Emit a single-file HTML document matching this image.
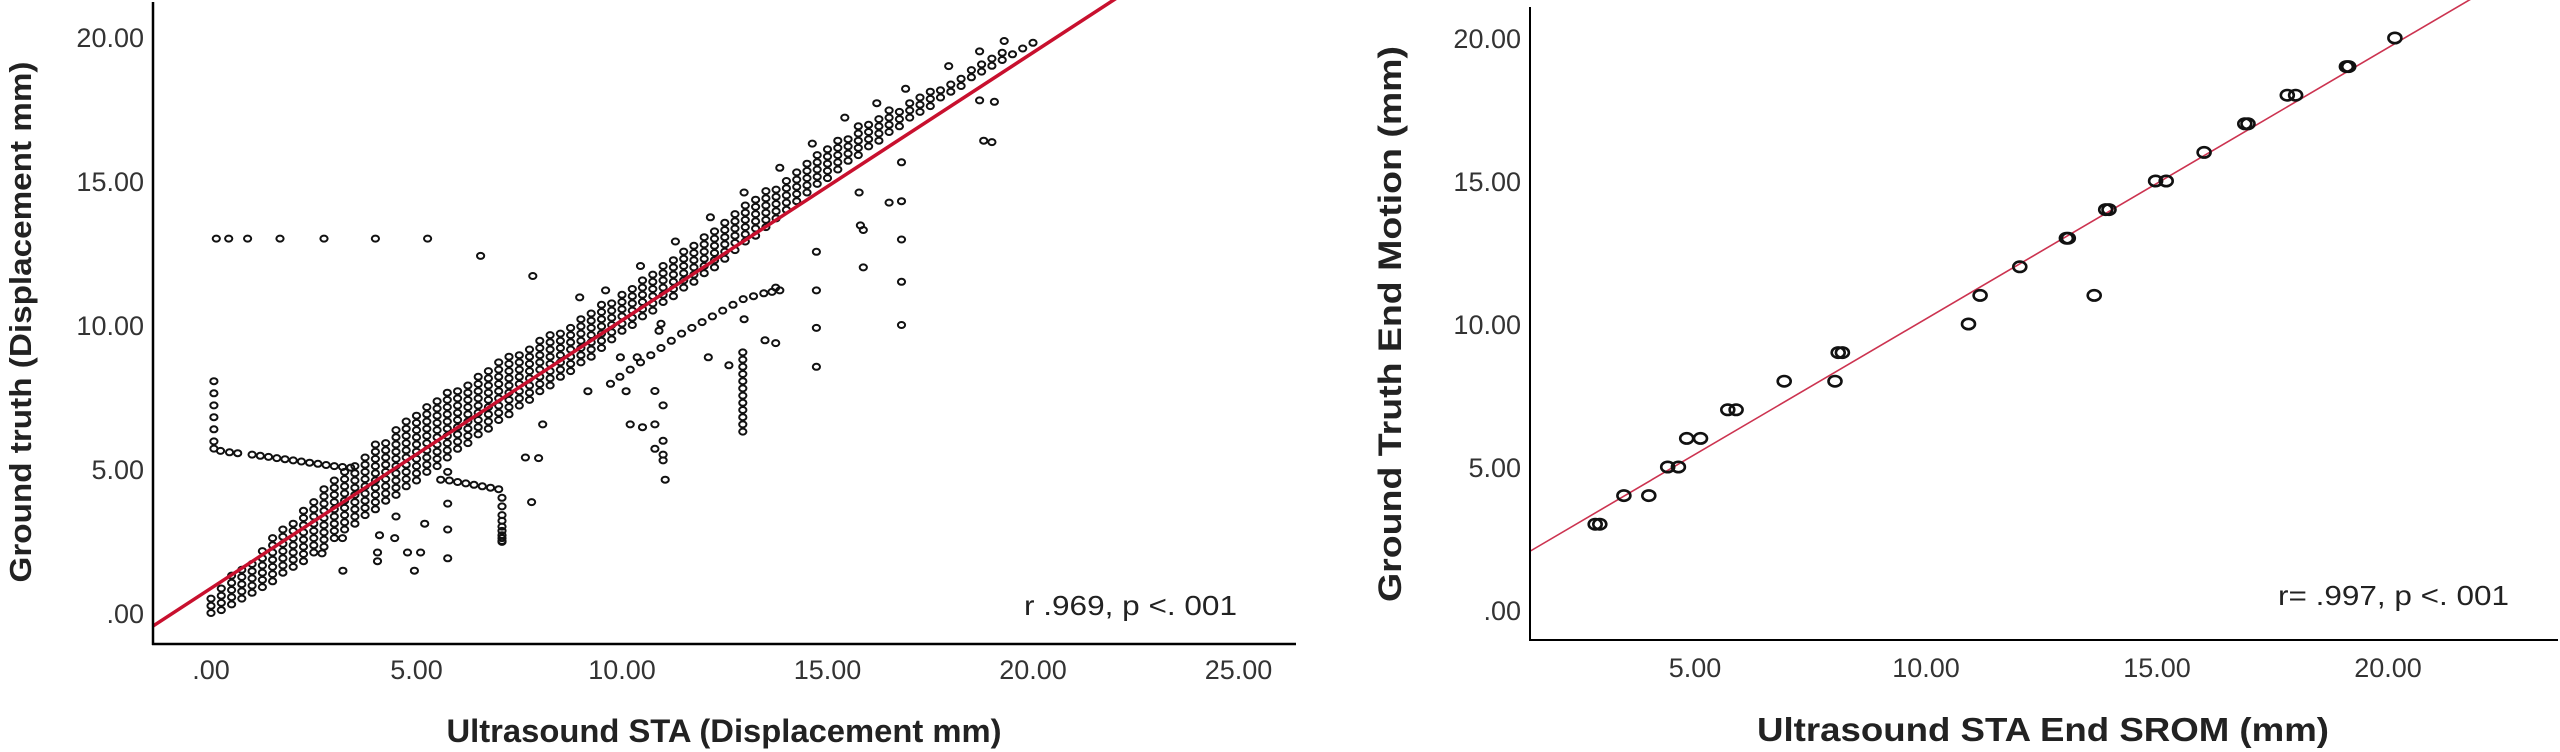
<!DOCTYPE html>
<html><head><meta charset="utf-8"><title>Scatter plots</title>
<style>
html,body{margin:0;padding:0;background:#fff;}
svg{display:block;}
text{font-family:"Liberation Sans",sans-serif;}
</style></head>
<body>
<svg id="fig" width="2560" height="752" viewBox="0 0 2560 752" xmlns="http://www.w3.org/2000/svg">
<rect x="0" y="0" width="2560" height="752" fill="#fff"/>
<defs>
<clipPath id="clipL"><rect x="153" y="0" width="1143" height="644"/></clipPath>
<clipPath id="clipR"><rect x="1530" y="0" width="1030" height="640"/></clipPath>
</defs>
<g id="left"></g>
<g id="right"></g>
</svg>
<script>
// ---------- Left chart data ----------
const leftXTicks = [0, 5, 10, 15, 20, 25];
const leftXTickLabels = [".00", "5.00", "10.00", "15.00", "20.00", "25.00"];
const leftYTicks = [0, 5, 10, 15, 20];
const leftYTickLabels = [".00", "5.00", "10.00", "15.00", "20.00"];
const leftFit = [0.86, 0.93]; // intercept, slope
const bandX = [0,0.25,0.5,0.75,1,1.25,1.5,1.75,2,2.25,2.5,2.75,3,3.25,3.5,3.75,4,4.25,4.5,4.75,5,5.25,5.5,5.75,6,6.25,6.5,6.75,7,7.25,7.5,7.75,8,8.25,8.5,8.75,9,9.25,9.5,9.75,10,10.25,10.5,10.75,11,11.25,11.5,11.75,12,12.25,12.5,12.75,13,13.25,13.5,13.75,14,14.25,14.5,14.75,15,15.25,15.5,15.75,16,16.25,16.5,16.75,17,17.25,17.5,17.75,18,18.25,18.5,18.75,19,19.25,19.5,19.75,20];
const bandUpperY = [0.6,0.9,1.3,1.6,1.9,2.2,2.6,3.0,3.3,3.7,4.0,4.3,4.6,4.9,5.3,5.6,5.9,6.1,6.4,6.7,7.0,7.2,7.5,7.7,7.9,8.1,8.3,8.5,8.7,8.9,9.1,9.3,9.5,9.7,9.9,10.1,10.3,10.5,10.7,10.9,11.1,11.4,11.6,11.9,12.1,12.4,12.6,12.9,13.1,13.4,13.7,13.9,14.2,14.4,14.7,14.9,15.2,15.4,15.7,15.9,16.2,16.4,16.6,16.9,17.1,17.3,17.5,17.6,17.8,18.0,18.1,18.3,18.5,18.7,18.9,19.1,19.3,19.5,19.6,19.8,19.9];
const bandLowerY = [0.0,0.1,0.3,0.5,0.7,0.9,1.1,1.4,1.6,1.8,2.1,2.3,2.6,2.9,3.1,3.4,3.6,3.9,4.1,4.4,4.6,4.9,5.1,5.4,5.7,5.9,6.2,6.4,6.7,6.9,7.2,7.4,7.7,7.9,8.2,8.4,8.7,8.9,9.2,9.5,9.8,10.0,10.3,10.5,10.8,11.0,11.3,11.5,11.8,12.0,12.3,12.6,12.9,13.1,13.4,13.7,14.0,14.3,14.6,14.9,15.1,15.4,15.7,15.9,16.2,16.4,16.7,16.9,17.2,17.4,17.6,17.9,18.1,18.3,18.6,18.8,19.0,19.2,19.4,19.6,19.8];
const outlierX = [0.13,0.43,0.89,1.68,2.75,4.0,5.27,6.56,7.83,
 0.07,0.07,0.07,0.07,0.07,0.07,0.07,
 0.23,0.45,0.65,1.0,1.2,1.4,1.6,1.8,2.0,2.2,2.4,2.6,2.8,3.0,3.2,3.4,
 5.59,5.8,6.0,6.2,6.4,6.6,6.8,7.0,7.08,7.08,7.08,7.08,7.08,7.08,7.08,7.08,7.08,7.08,
 9.72,9.95,10.2,10.45,10.7,10.95,11.2,11.45,11.7,11.95,12.2,12.45,12.7,12.95,13.2,13.45,13.65,13.84,
 12.94,12.94,12.94,12.94,12.94,12.94,12.94,12.94,12.94,12.94,12.94,12.94,
 10.95,10.9,10.8,11.0,10.2,10.5,10.8,10.8,11.0,11.0,11.05,11.0,
 14.73,14.73,14.73,14.73,16.8,16.8,16.8,16.8,16.8,16.5,15.8,15.87,15.87,15.77,
 18.7,19.06,18.8,19.0,
 3.21,4.05,4.95,2.7,4.05,4.78,5.1,5.76,5.76,5.76,5.76,4.1,4.47,5.2,3.2,4.5,7.97,7.65,8.07,7.8,9.17,10.1,
 9.96,10.37,12.1,12.6,12.97,13.48,13.74,13.74,
 17.95,18.7,19.3,14.63,15.42,16.2,16.9,
 8.97,9.6,10.45,11.3,12.15,12.97,13.84];
const outlierY = [13.0,13.0,13.0,13.0,13.0,13.0,13.0,12.4,11.7,
 8.05,7.63,7.21,6.8,6.38,5.96,5.71,
 5.63,5.58,5.55,5.5,5.46,5.42,5.38,5.34,5.3,5.26,5.22,5.18,5.14,5.1,5.07,5.05,
 4.63,4.6,4.55,4.5,4.45,4.4,4.35,4.3,4.0,3.7,3.4,3.2,3.0,2.85,2.7,2.6,2.5,2.47,
 7.96,8.2,8.45,8.7,8.95,9.2,9.45,9.7,9.9,10.1,10.3,10.5,10.7,10.9,11.0,11.1,11.15,11.2,
 9.05,8.8,8.55,8.3,8.05,7.8,7.55,7.3,7.05,6.8,6.55,6.3,
 10.04,9.8,7.71,7.21,6.55,6.45,6.55,5.7,5.5,5.3,4.63,5.98,
 12.54,11.2,9.9,8.55,15.65,14.3,12.97,11.5,10.0,14.25,13.46,13.3,12.0,14.6,
 17.8,17.75,16.4,16.35,
 1.47,1.8,1.47,2.07,2.1,2.1,2.1,1.9,2.9,3.8,4.9,2.7,2.6,3.1,2.6,3.35,5.38,5.4,6.55,3.85,7.7,7.7,
 8.88,8.88,8.88,8.6,10.2,9.47,9.37,11.3,
 18.99,19.5,19.86,16.3,17.2,17.7,18.2,
 10.96,11.2,12.05,12.9,13.74,14.6,15.46];

// ---------- Right chart data ----------
const rightXTicks = [5, 10, 15, 20];
const rightXTickLabels = ["5.00", "10.00", "15.00", "20.00"];
const rightYTicks = [0, 5, 10, 15, 20];
const rightYTickLabels = [".00", "5.00", "10.00", "15.00", "20.00"];
const rightFit = [0.70, 0.948];
const rightX = [2.84,2.94,3.46,4.0,4.41,4.64,4.82,5.12,5.71,5.89,6.93,8.03,8.10,8.19,10.92,11.17,13.64,12.03,13.04,13.08,13.89,13.96,14.97,15.2,16.02,16.9,16.97,17.82,18.0,19.1,19.15,20.15];
const rightY = [3,3,4,4,5,5,6,6,7,7,8,8,9,9,10,11,11,12,13,13,14,14,15,15,16,17,17,18,18,19,19,20];

const NS = "http://www.w3.org/2000/svg";
function mk(tag, attrs, parent) {
  const e = document.createElementNS(NS, tag);
  for (const k in attrs) e.setAttribute(k, attrs[k]);
  parent.appendChild(e);
  return e;
}

// ---------- Left chart ----------
(function () {
  const g = document.getElementById("left");
  const X = v => 211 + 41.1 * v;
  const Y = v => 613 - 28.8 * v;
  const pts = mk("g", {fill: "none", stroke: "#111", "stroke-width": "2"}, g);
  
  
  for (let i = 0; i < bandX.length; i++) {
    for (let y = bandLowerY[i]; y <= bandUpperY[i] + 0.001; y += 0.25) {
      const c = mk("ellipse", {cx: X(bandX[i]).toFixed(1), cy: Y(y).toFixed(1), rx: 3.6, ry: 3}, pts);
      
      
    }
  }
  for (let i = 0; i < outlierX.length; i++) {
    const c = mk("ellipse", {cx: X(outlierX[i]).toFixed(1), cy: Y(outlierY[i]).toFixed(1), rx: 3.6, ry: 3}, pts);
    
    
  }
  const x0 = -1.5, x1 = 25;
  const fl = mk("line", {x1: X(x0), y1: Y(leftFit[0] + leftFit[1] * x0), x2: X(x1), y2: Y(leftFit[0] + leftFit[1] * x1), stroke: "#c8102e", "stroke-width": 3.5, "clip-path": "url(#clipL)"}, g);
  
  
  const ya = mk("line", {x1: 153, y1: 2, x2: 153, y2: 645, stroke: "#000", "stroke-width": 2.5}, g);
  
  
  const xa = mk("line", {x1: 152, y1: 644, x2: 1296, y2: 644, stroke: "#000", "stroke-width": 2.5}, g);
  
  
  leftXTicks.forEach((v, i) => {
    const t = mk("text", {x: X(v), y: 679, "text-anchor": "middle", "font-size": 27, fill: "#333"}, g);
    t.textContent = leftXTickLabels[i];
    
    
  });
  leftYTicks.forEach((v, i) => {
    const t = mk("text", {x: 144, y: Y(v) + 10, "text-anchor": "end", "font-size": 27, fill: "#333"}, g);
    t.textContent = leftYTickLabels[i];
    
    
  });
  const xt = mk("text", {x: 724, y: 742, "text-anchor": "middle", "font-size": 32, "font-weight": "bold", fill: "#222", textLength: 555, lengthAdjust: "spacingAndGlyphs"}, g);
  xt.textContent = "Ultrasound STA (Displacement mm)";
  
  
  const yt = mk("text", {x: 0, y: 0, "text-anchor": "middle", "font-size": 31, "font-weight": "bold", fill: "#222", textLength: 521, lengthAdjust: "spacingAndGlyphs", transform: "translate(31,322) rotate(-90)"}, g);
  yt.textContent = "Ground truth (Displacement mm)";
  
  
  const an = mk("text", {x: 1024, y: 615, "font-size": 28, fill: "#222", textLength: 213, lengthAdjust: "spacingAndGlyphs"}, g);
  an.textContent = "r .969, p <. 001";
  
  
})();

// ---------- Right chart ----------
(function () {
  const g = document.getElementById("right");
  const X = v => 1464 + 46.2 * v;
  const Y = v => 610 - 28.6 * v;
  const x0 = 1, x1 = 25;
  const fl = mk("line", {x1: X(x0), y1: Y(rightFit[0] + rightFit[1] * x0), x2: X(x1), y2: Y(rightFit[0] + rightFit[1] * x1), stroke: "#cc3350", "stroke-width": 1.6, "clip-path": "url(#clipR)"}, g);
  
  
  const pts = mk("g", {fill: "none", stroke: "#111", "stroke-width": 2.6}, g);
  
  
  for (let i = 0; i < rightX.length; i++) {
    const c = mk("ellipse", {cx: X(rightX[i]).toFixed(1), cy: Y(rightY[i]).toFixed(1), rx: 6.5, ry: 5.2}, pts);
    
    
  }
  const ya = mk("line", {x1: 1530, y1: 7, x2: 1530, y2: 641, stroke: "#000", "stroke-width": 2}, g);
  
  
  const xa = mk("line", {x1: 1529, y1: 640, x2: 2558, y2: 640, stroke: "#000", "stroke-width": 2}, g);
  
  
  rightXTicks.forEach((v, i) => {
    const t = mk("text", {x: X(v), y: 677, "text-anchor": "middle", "font-size": 27, fill: "#333"}, g);
    t.textContent = rightXTickLabels[i];
    
    
  });
  rightYTicks.forEach((v, i) => {
    const t = mk("text", {x: 1521, y: Y(v) + 10, "text-anchor": "end", "font-size": 27, fill: "#333"}, g);
    t.textContent = rightYTickLabels[i];
    
    
  });
  const xt = mk("text", {x: 2043, y: 741, "text-anchor": "middle", "font-size": 33, "font-weight": "bold", fill: "#222", textLength: 572, lengthAdjust: "spacingAndGlyphs"}, g);
  xt.textContent = "Ultrasound STA End SROM (mm)";
  
  
  const yt = mk("text", {x: 0, y: 0, "text-anchor": "middle", "font-size": 32, "font-weight": "bold", fill: "#222", textLength: 556, lengthAdjust: "spacingAndGlyphs", transform: "translate(1401,324) rotate(-90)"}, g);
  yt.textContent = "Ground Truth End Motion (mm)";
  
  
  const an = mk("text", {x: 2278, y: 605, "font-size": 28, fill: "#222", textLength: 231, lengthAdjust: "spacingAndGlyphs"}, g);
  an.textContent = "r= .997, p <. 001";
  
  
})();
</script>
</body></html>
